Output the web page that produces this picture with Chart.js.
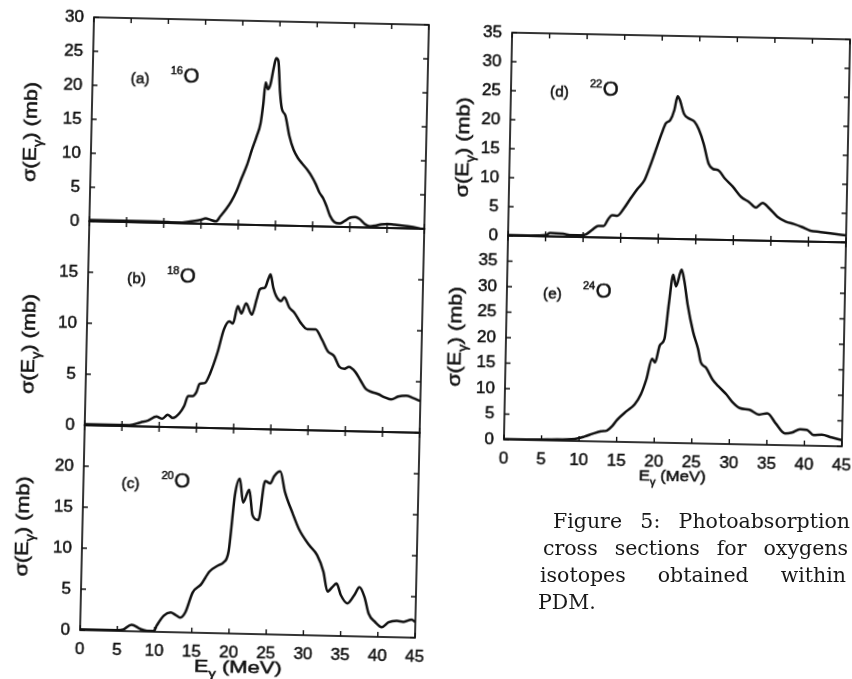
<!DOCTYPE html>
<html>
<head>
<meta charset="utf-8">
<title>Photoabsorption cross sections, oxygen isotopes</title>
<script src="https://cdn.jsdelivr.net/npm/chart.js@4.4.1/dist/chart.umd.min.js"></script>
<style>
  html, body { margin: 0; padding: 0; background: #fff; width: 852px; height: 679px; overflow: hidden; }
  .col { position: absolute; left: 0; top: 0; width: 852px; height: 679px; }
  #leftCol { transform-origin: 254.5px 327.5px; transform: rotate(1.3deg); }
  #rightCol { transform-origin: 677px 239.5px; transform: rotate(1.15deg); }
  canvas { position: absolute; }
  .cap { position: absolute; font-family: 'DejaVu Serif', serif; font-size: 20.5px; line-height: 27px;
         color: #181818; text-align: justify; text-align-last: justify; }
</style>
</head>
<body>
<div id="leftCol" class="col"></div>
<div id="rightCol" class="col"></div>

<div class="cap" style="left:553px; top:508px; width:297px;">Figure 5: Photoabsorption</div>
<div class="cap" style="left:543px; top:535px; width:305px;">cross sections for oxygens</div>
<div class="cap" style="left:540px; top:562px; width:306px;">isotopes obtained within</div>
<div class="cap" style="left:538px; top:589px; width:90px; text-align-last:left;">PDM.</div>

<script>
// photon energy ticks (MeV), shared by every panel
const energyTicks = [0, 5, 10, 15, 20, 25, 30, 35, 40, 45];

// (a) 16O
const energyA = [0, 3, 6, 9, 12, 13.5, 15, 15.6, 16.3, 17, 17.6, 18.3, 19, 19.7, 20.3, 21, 21.6, 22.2, 22.7, 23.0, 23.25, 23.6, 23.9, 24.3, 24.6, 24.9, 25.2, 25.5, 26, 26.6, 27.2, 27.8, 28.4, 29.1, 29.8, 30.3, 30.8, 31.3, 31.8, 32.3, 32.9, 33.6, 34.3, 35, 35.7, 36.3, 37, 37.7, 38.4, 39.2, 40, 41, 42, 43, 44, 45];
const sigmaA = [0.2, 0.2, 0.2, 0.2, 0.1, 0.3, 0.6, 0.8, 0.6, 0.4, 1.2, 2.2, 3.4, 5.0, 6.8, 8.8, 11.0, 13.0, 15.0, 17.8, 21.0, 20.0, 20.7, 23.2, 24.6, 24.2, 19.8, 17.2, 16.2, 13.2, 11.2, 10.0, 9.2, 8.3, 7.2, 6.2, 5.0, 4.2, 3.0, 1.6, 0.7, 0.5, 0.9, 1.4, 1.5, 1.2, 0.5, 0.2, 0.3, 0.5, 0.6, 0.5, 0.4, 0.3, 0.1, -0.2];

// (b) 18O
const energyB = [0, 3, 6, 7.5, 8.5, 9.6, 10.4, 11.1, 11.8, 12.7, 13.3, 13.8, 14.4, 14.9, 15.3, 16, 16.7, 17.6, 18.4, 19.1, 19.6, 20.2, 20.7, 21.3, 22.1, 22.7, 23.1, 23.8, 24.2, 24.5, 24.9, 25.3, 26, 26.4, 27.1, 27.8, 28.7, 29.6, 30.7, 31.6, 32.4, 33.3, 34, 34.7, 35.3, 36.2, 36.9, 37.6, 38.4, 39.3, 40.2, 41.1, 42, 43.1, 44, 45];
const sigmaB = [0.1, 0.1, 0.1, 0.4, 0.6, 1.0, 0.8, 1.2, 0.9, 1.4, 2.1, 3.1, 3.1, 3.5, 4.3, 4.4, 5.4, 7.4, 9.7, 10.5, 10.3, 12.0, 11.3, 12.3, 11.2, 12.7, 13.7, 13.9, 14.7, 15.2, 13.9, 13.1, 12.6, 13.0, 12.0, 11.5, 10.5, 9.9, 9.9, 8.9, 7.8, 7.3, 6.3, 6.1, 6.3, 5.8, 5.0, 4.2, 3.9, 3.7, 3.4, 3.2, 3.5, 3.6, 3.4, 3.1];

// (c) 20O
const energyC = [0, 3, 5, 5.8, 6.9, 8.1, 9, 9.9, 10.3, 11.2, 12.1, 12.8, 13.4, 14.1, 15, 16.1, 17.2, 18.4, 19, 19.7, 20.4, 21, 21.5, 22.3, 22.8, 23.6, 24.4, 25.1, 25.6, 26.4, 27.1, 28.2, 29.1, 30.5, 31.6, 32.5, 33.1, 33.8, 34.3, 34.9, 35.8, 36.7, 37.4, 38.1, 38.7, 39.6, 40.5, 41.4, 42.5, 43.4, 44.5, 45];
const sigmaC = [0.1, 0.1, 0.1, 0.2, 0.8, 0.3, 0.1, 0.1, 0.8, 2.0, 2.4, 2.1, 1.8, 2.5, 4.9, 5.9, 7.5, 8.3, 8.6, 10.0, 17.0, 18.9, 16.0, 17.6, 14.5, 13.9, 18.7, 18.4, 19.3, 19.9, 17.4, 14.8, 12.9, 11.0, 9.8, 7.8, 5.4, 6.0, 6.4, 5.0, 4.0, 5.0, 6.0, 4.8, 2.8, 1.8, 1.2, 1.8, 2.0, 1.9, 2.2, 1.9];

// (d) 22O
const energyD = [0, 3, 5, 5.6, 7.3, 8.5, 9.6, 10.4, 11.3, 12, 12.7, 13.3, 13.8, 14.5, 15.3, 16.2, 17.1, 18, 18.7, 19.3, 20.2, 20.7, 21.3, 21.8, 22.2, 22.5, 23.1, 23.8, 24.5, 25.1, 25.8, 26.5, 27.1, 27.8, 28.7, 29.8, 30.9, 32, 32.9, 33.8, 34.7, 35.8, 36.9, 38, 39.1, 40.2, 41.6, 42.9, 45];
const sigmaD = [0.1, 0.1, 0.2, 0.6, 0.5, 0.3, 0.3, 0.5, 1.4, 2.0, 2.0, 3.2, 3.9, 3.8, 5.0, 6.8, 8.5, 10.0, 12.4, 14.7, 18.2, 19.9, 20.5, 22.2, 24.6, 24.0, 21.6, 20.8, 20.3, 19.0, 16.5, 13.1, 12.2, 12.0, 10.6, 9.2, 7.5, 6.6, 5.7, 6.5, 5.6, 4.2, 3.4, 3.0, 2.5, 1.9, 1.7, 1.5, 1.2];

// (e) 24O
const energyE = [0, 3, 6.3, 9.4, 10.7, 11.8, 12.9, 13.7, 14.4, 15, 16.2, 17.3, 18.1, 18.8, 19.5, 19.9, 20.5, 21.1, 21.6, 22.1, 22.5, 23.2, 23.6, 24.1, 24.9, 25.6, 26, 26.7, 27.6, 28.4, 29.5, 30.4, 31.3, 32.6, 33.9, 35, 36.1, 37.4, 38.3, 39.4, 40.3, 41.2, 42.3, 43.6, 45];
const sigmaE = [0.1, 0.1, 0.2, 0.4, 0.9, 1.5, 2.0, 2.2, 3.1, 4.3, 6.0, 7.4, 9.4, 12.4, 16.4, 15.7, 19.1, 20.4, 27.4, 33.0, 30.7, 34.0, 31.7, 27.1, 21.8, 18.5, 15.9, 14.9, 12.6, 11.3, 9.7, 8.1, 7.1, 6.8, 5.9, 6.2, 4.3, 2.3, 2.5, 3.2, 3.1, 2.1, 2.2, 1.7, 1.2];

// labelled cross-section ticks (mb) on each panel
const sigmaLabelsA = [0, 5, 10, 15, 20, 25, 30];
const sigmaLabelsB = [0, 5, 10, 15];
const sigmaLabelsC = [0, 5, 10, 15, 20];
const sigmaLabelsD = [0, 5, 10, 15, 20, 25, 30, 35];
const sigmaLabelsE = [0, 5, 10, 15, 20, 25, 30, 35];

const INK = '#111';
const SANS = "'Liberation Sans', Arial, sans-serif";
const TICK = 5;

// plot rectangles [left, top, width, height] before the column tilt
const panels = [
  { col: 'leftCol', e: energyA, s: sigmaA, yMax: 30, labels: sigmaLabelsA, tag: '(a)', mass: '16',
    box: [87, 21, 335, 204], bottom: false, tagX: 38, tagY: 64, titleDx: -61, titleDy: 14 },
  { col: 'leftCol', e: energyB, s: sigmaB, yMax: 20, labels: sigmaLabelsB, tag: '(b)', mass: '18',
    box: [87, 225, 335, 204], bottom: false, tagX: 39, tagY: 60, titleDx: -58, titleDy: 22 },
  { col: 'leftCol', e: energyC, s: sigmaC, yMax: 25, labels: sigmaLabelsC, tag: '(c)', mass: '20',
    box: [87, 429, 335, 205], bottom: true, tagX: 38, tagY: 61, titleDx: -60, titleDy: 0,
    xTitleDx: -9, xTitleSize: 17, xTitleLen: 88 },
  { col: 'rightCol', e: energyD, s: sigmaD, yMax: 35, labels: sigmaLabelsD, tag: '(d)', mass: '22',
    box: [508, 36, 338, 203], bottom: false, tagX: 39, tagY: 62, titleDx: -47, titleDy: 14 },
  { col: 'rightCol', e: energyE, s: sigmaE, yMax: 40, labels: sigmaLabelsE, tag: '(e)', mass: '24',
    box: [508, 239, 338, 204], bottom: true, tagX: 36, tagY: 61, titleDx: -51, titleDy: 0,
    xTitleDx: 0, xTitleSize: 15, xTitleLen: 67 }
];

function font(size) { return size + 'px ' + SANS; }

// filled text with a hairline outline, a touch heavier than plain fill
function ink(ctx, txt, x, y) {
  ctx.fillText(txt, x, y);
  ctx.strokeText(txt, x, y);
}

// text run with optional subscript pieces, centred on the origin
function drawRun(ctx, parts, size, targetLen) {
  let w = 0;
  parts.forEach(([txt, sub]) => { ctx.font = font(sub ? size * 0.68 : size); w += ctx.measureText(txt).width; });
  if (targetLen) ctx.scale(targetLen / w, 1);
  let x = -w / 2;
  parts.forEach(([txt, sub]) => {
    ctx.font = font(sub ? size * 0.68 : size);
    ink(ctx, txt, x, sub ? size * 0.28 : 0);
    x += ctx.measureText(txt).width;
  });
}

const framePlugin = {
  id: 'frame',
  afterDatasetsDraw(chart, args, opts) {
    const { ctx, chartArea: a, scales: { x, y } } = chart;
    ctx.save();
    ctx.strokeStyle = INK;
    ctx.fillStyle = INK;

    // box round the plot
    ctx.lineWidth = 1.7;
    ctx.strokeRect(a.left, a.top, a.right - a.left, a.bottom - a.top);

    // inward ticks on all four sides
    ctx.lineWidth = 1.4;
    ctx.beginPath();
    x.ticks.forEach(t => {
      const px = x.getPixelForValue(t.value);
      ctx.moveTo(px, a.bottom); ctx.lineTo(px, a.bottom - TICK);
      ctx.moveTo(px, a.top); ctx.lineTo(px, a.top + TICK);
    });
    y.ticks.forEach(t => {
      const py = y.getPixelForValue(t.value);
      ctx.moveTo(a.left, py); ctx.lineTo(a.left + TICK, py);
      ctx.moveTo(a.right, py); ctx.lineTo(a.right - TICK, py);
    });
    ctx.stroke();

    // panel tag and isotope
    ctx.lineWidth = 0.5;
    ctx.textBaseline = 'alphabetic';
    ctx.textAlign = 'left';
    let tx = a.left + opts.tagX;
    const ty = a.top + opts.tagY;
    ctx.font = font(15.5);
    ink(ctx, opts.tag, tx, ty + 1);
    tx += 40;
    ctx.font = font(11);
    ink(ctx, opts.mass, tx, ty - 9);
    tx += ctx.measureText(opts.mass).width + 0.5;
    ctx.font = font(20.5);
    ink(ctx, 'O', tx, ty - 1);

    // y title: sigma(E_gamma) (mb)
    ctx.save();
    ctx.translate(a.left + opts.titleDx, (a.top + a.bottom) / 2 + opts.titleDy);
    ctx.rotate(-Math.PI / 2);
    ctx.translate(0, 18 * 0.36);
    drawRun(ctx, [['σ(E', 0], ['γ', 1], [') (mb)', 0]], 18, 100);
    ctx.restore();

    // x title on the bottom panels
    if (opts.bottom) {
      ctx.save();
      ctx.translate((a.left + a.right) / 2 + opts.xTitleDx, a.bottom + 33 + opts.xTitleSize * 0.36);
      drawRun(ctx, [['E', 0], ['γ', 1], [' (MeV)', 0]], opts.xTitleSize, opts.xTitleLen);
      ctx.restore();
    }
    ctx.restore();
  }
};

const tickFont = { family: SANS, size: 17 };

panels.forEach(p => {
  const [left, top, w, h] = p.box;
  // margins are wider than the y-label overhang so the plot box keeps its size
  const padL = 80, padR = 24, padT = 26, padB = p.bottom ? 54 : 26;
  const cv = document.createElement('canvas');
  cv.width = padL + w + padR;
  cv.height = padT + h + padB;
  cv.style.left = (left - padL) + 'px';
  cv.style.top = (top - padT) + 'px';
  document.getElementById(p.col).appendChild(cv);

  new Chart(cv.getContext('2d'), {
    type: 'line',
    data: {
      datasets: [{
        data: p.e.map((e, i) => ({ x: e, y: p.s[i] })),
        borderColor: INK,
        borderWidth: 2.5,
        pointRadius: 0,
        cubicInterpolationMode: 'monotone',
        fill: false
      }]
    },
    options: {
      responsive: false,
      animation: false,
      events: [],
      layout: { padding: { left: 0, right: padR, top: padT, bottom: 0 } },
      plugins: {
        legend: { display: false },
        tooltip: { enabled: false },
        frame: {
          tag: p.tag, mass: p.mass, tagX: p.tagX, tagY: p.tagY,
          titleDx: p.titleDx, titleDy: p.titleDy, bottom: p.bottom,
          xTitleDx: p.xTitleDx || 0, xTitleSize: p.xTitleSize || 16, xTitleLen: p.xTitleLen || 0
        }
      },
      scales: {
        x: {
          type: 'linear',
          min: energyTicks[0],
          max: energyTicks[energyTicks.length - 1],
          afterBuildTicks: s => { s.ticks = energyTicks.map(v => ({ value: v })); },
          grid: { display: false, drawTicks: false },
          border: { display: false },
          ticks: {
            display: p.bottom, color: INK, padding: 9, font: tickFont, maxRotation: 0,
            textStrokeColor: INK, textStrokeWidth: 0.5
          },
          afterFit: s => { s.height = padB; }
        },
        y: {
          min: 0,
          max: p.yMax,
          ticks: {
            stepSize: 5,
            color: INK,
            padding: 10,
            font: tickFont,
            textStrokeColor: INK,
            textStrokeWidth: 0.5,
            callback: v => (p.labels.includes(v) ? String(v) : '')
          },
          grid: { display: false, drawTicks: false },
          border: { display: false },
          afterFit: s => { s.width = padL; }
        }
      }
    },
    plugins: [framePlugin]
  });
});
</script>
</body>
</html>
